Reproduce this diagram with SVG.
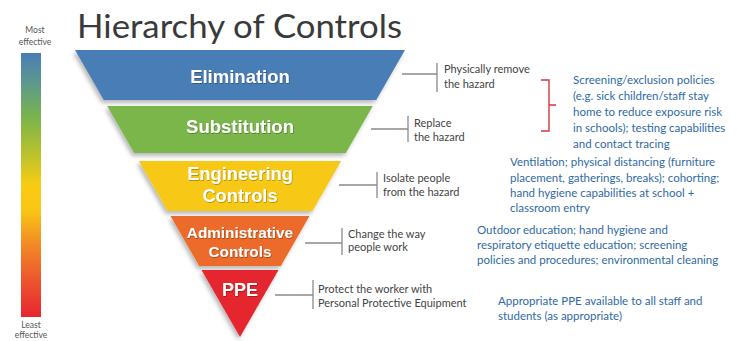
<svg xmlns="http://www.w3.org/2000/svg" width="737" height="341" viewBox="0 0 737 341">
<defs>
  <linearGradient id="scale" x1="0" y1="0" x2="0" y2="1">
    <stop offset="0" stop-color="#4a7db5"/>
    <stop offset="0.12" stop-color="#5f9a8a"/>
    <stop offset="0.25" stop-color="#7cb548"/>
    <stop offset="0.38" stop-color="#b9c22e"/>
    <stop offset="0.5" stop-color="#f8cc12"/>
    <stop offset="0.6" stop-color="#f9c514"/>
    <stop offset="0.72" stop-color="#f28c25"/>
    <stop offset="0.85" stop-color="#ec5a2e"/>
    <stop offset="1" stop-color="#e8252f"/>
  </linearGradient>
  <filter id="shadow" x="-10%" y="-10%" width="120%" height="130%">
    <feDropShadow dx="-2" dy="3" stdDeviation="2" flood-color="#000" flood-opacity="0.28"/>
  </filter>
  <filter id="tshadow" x="-10%" y="-20%" width="120%" height="140%">
    <feDropShadow dx="0.6" dy="0.8" stdDeviation="0.6" flood-color="#000" flood-opacity="0.35"/>
  </filter>
</defs>
<style>
  .title { font-family: Lato, "Open Sans", sans-serif; font-size: 32px; fill: #3a3a3a; }
  .scale-label { font-family: Lato, "Liberation Sans", sans-serif; font-size: 8.5px; fill: #555; text-anchor: middle; }
  .band { filter: url(#shadow); }
  .band-label { font-family: "Liberation Sans", Arial, sans-serif; font-weight: bold; fill: #fff; text-anchor: middle; filter: url(#tshadow); }
  .desc { font-family: Lato, "Open Sans", sans-serif; font-size: 11px; fill: #444; }
  .note { font-family: Lato, "Open Sans", sans-serif; font-size: 11.5px; fill: #2f6aa6; }
  .conn { stroke: #8a8a8a; stroke-width: 1.3; fill: none; }
  .bracket { stroke: #d9363e; stroke-width: 1.4; fill: none; }
</style>

<rect width="737" height="341" fill="#fff"/>

<text class="title" x="77" y="38" textLength="325" lengthAdjust="spacingAndGlyphs">Hierarchy of Controls</text>

<g id="scale-bar">
  <text class="scale-label" x="35" y="33">Most</text>
  <text class="scale-label" x="35" y="45">effective</text>
  <rect x="21" y="53" width="20" height="264" fill="url(#scale)"/>
  <text class="scale-label" x="31" y="328">Least</text>
  <text class="scale-label" x="31" y="338">effective</text>
</g>

<g id="elimination">
  <polygon class="band" points="75,50 405,50 376.25,100 103.75,100" fill="#4a7db5"/>
  <text class="band-label" x="240" y="83" font-size="18.5">Elimination</text>
</g>
<g id="substitution">
  <polygon class="band" points="107.2,106 372.8,106 345.8,153 134.2,153" fill="#7ab648"/>
  <text class="band-label" x="240" y="133" font-size="18.5">Substitution</text>
</g>
<g id="engineering">
  <polygon class="band" points="138.8,161 341.2,161 312.4,211 167.6,211" fill="#f7c816"/>
  <text class="band-label" x="240" y="180" font-size="18.3">Engineering</text>
  <text class="band-label" x="240" y="202" font-size="18.3">Controls</text>
</g>
<g id="administrative">
  <polygon class="band" points="170.5,216 309.5,216 280.8,266 199.2,266" fill="#ec6b2a"/>
  <text class="band-label" x="240" y="238" font-size="15.3">Administrative</text>
  <text class="band-label" x="240" y="257" font-size="15.3">Controls</text>
</g>
<g id="ppe">
  <polygon class="band" points="201.5,270 278.5,270 240,337" fill="#e5262f"/>
  <text class="band-label" x="240" y="296" font-size="18">PPE</text>
</g>

<g id="connectors">
  <path class="conn" d="M402,74 H437 M437,63 V92"/>
  <path class="conn" d="M371,129 H408 M408,116 V142"/>
  <path class="conn" d="M339,185 H377 M377,172 V198"/>
  <path class="conn" d="M305,243 H342 M342,228 V255"/>
  <path class="conn" d="M275,295 H313 M313,280 V309"/>
  <path class="bracket" d="M541,80 H549 V105 H556 M549,105 V131 H541"/>
</g>

<g id="desc-elimination">
  <text class="desc" x="444" y="73">Physically remove</text>
  <text class="desc" x="444" y="88">the hazard</text>
</g>
<g id="desc-substitution">
  <text class="desc" x="414" y="127">Replace</text>
  <text class="desc" x="414" y="141">the hazard</text>
</g>
<g id="desc-engineering">
  <text class="desc" x="383" y="182">Isolate people</text>
  <text class="desc" x="383" y="196">from the hazard</text>
</g>
<g id="desc-administrative">
  <text class="desc" x="348" y="238">Change the way</text>
  <text class="desc" x="348" y="251">people work</text>
</g>
<g id="desc-ppe">
  <text class="desc" x="318" y="293">Protect the worker with</text>
  <text class="desc" x="318" y="307">Personal Protective Equipment</text>
</g>

<g id="note-elim-sub">
  <text class="note" x="573" y="84">Screening/exclusion policies</text>
  <text class="note" x="573" y="100">(e.g. sick children/staff stay</text>
  <text class="note" x="573" y="116">home to reduce exposure risk</text>
  <text class="note" x="573" y="132">in schools); testing capabilities</text>
  <text class="note" x="573" y="148">and contact tracing</text>
</g>
<g id="note-engineering">
  <text class="note" x="510" y="166">Ventilation; physical distancing (furniture</text>
  <text class="note" x="510" y="182">placement, gatherings, breaks); cohorting;</text>
  <text class="note" x="510" y="197">hand hygiene capabilities at school +</text>
  <text class="note" x="510" y="212">classroom entry</text>
</g>
<g id="note-administrative">
  <text class="note" x="477" y="234">Outdoor education; hand hygiene and</text>
  <text class="note" x="477" y="249">respiratory etiquette education; screening</text>
  <text class="note" x="477" y="264">policies and procedures; environmental cleaning</text>
</g>
<g id="note-ppe">
  <text class="note" x="498" y="305">Appropriate PPE available to all staff and</text>
  <text class="note" x="498" y="320">students (as appropriate)</text>
</g>
</svg>
